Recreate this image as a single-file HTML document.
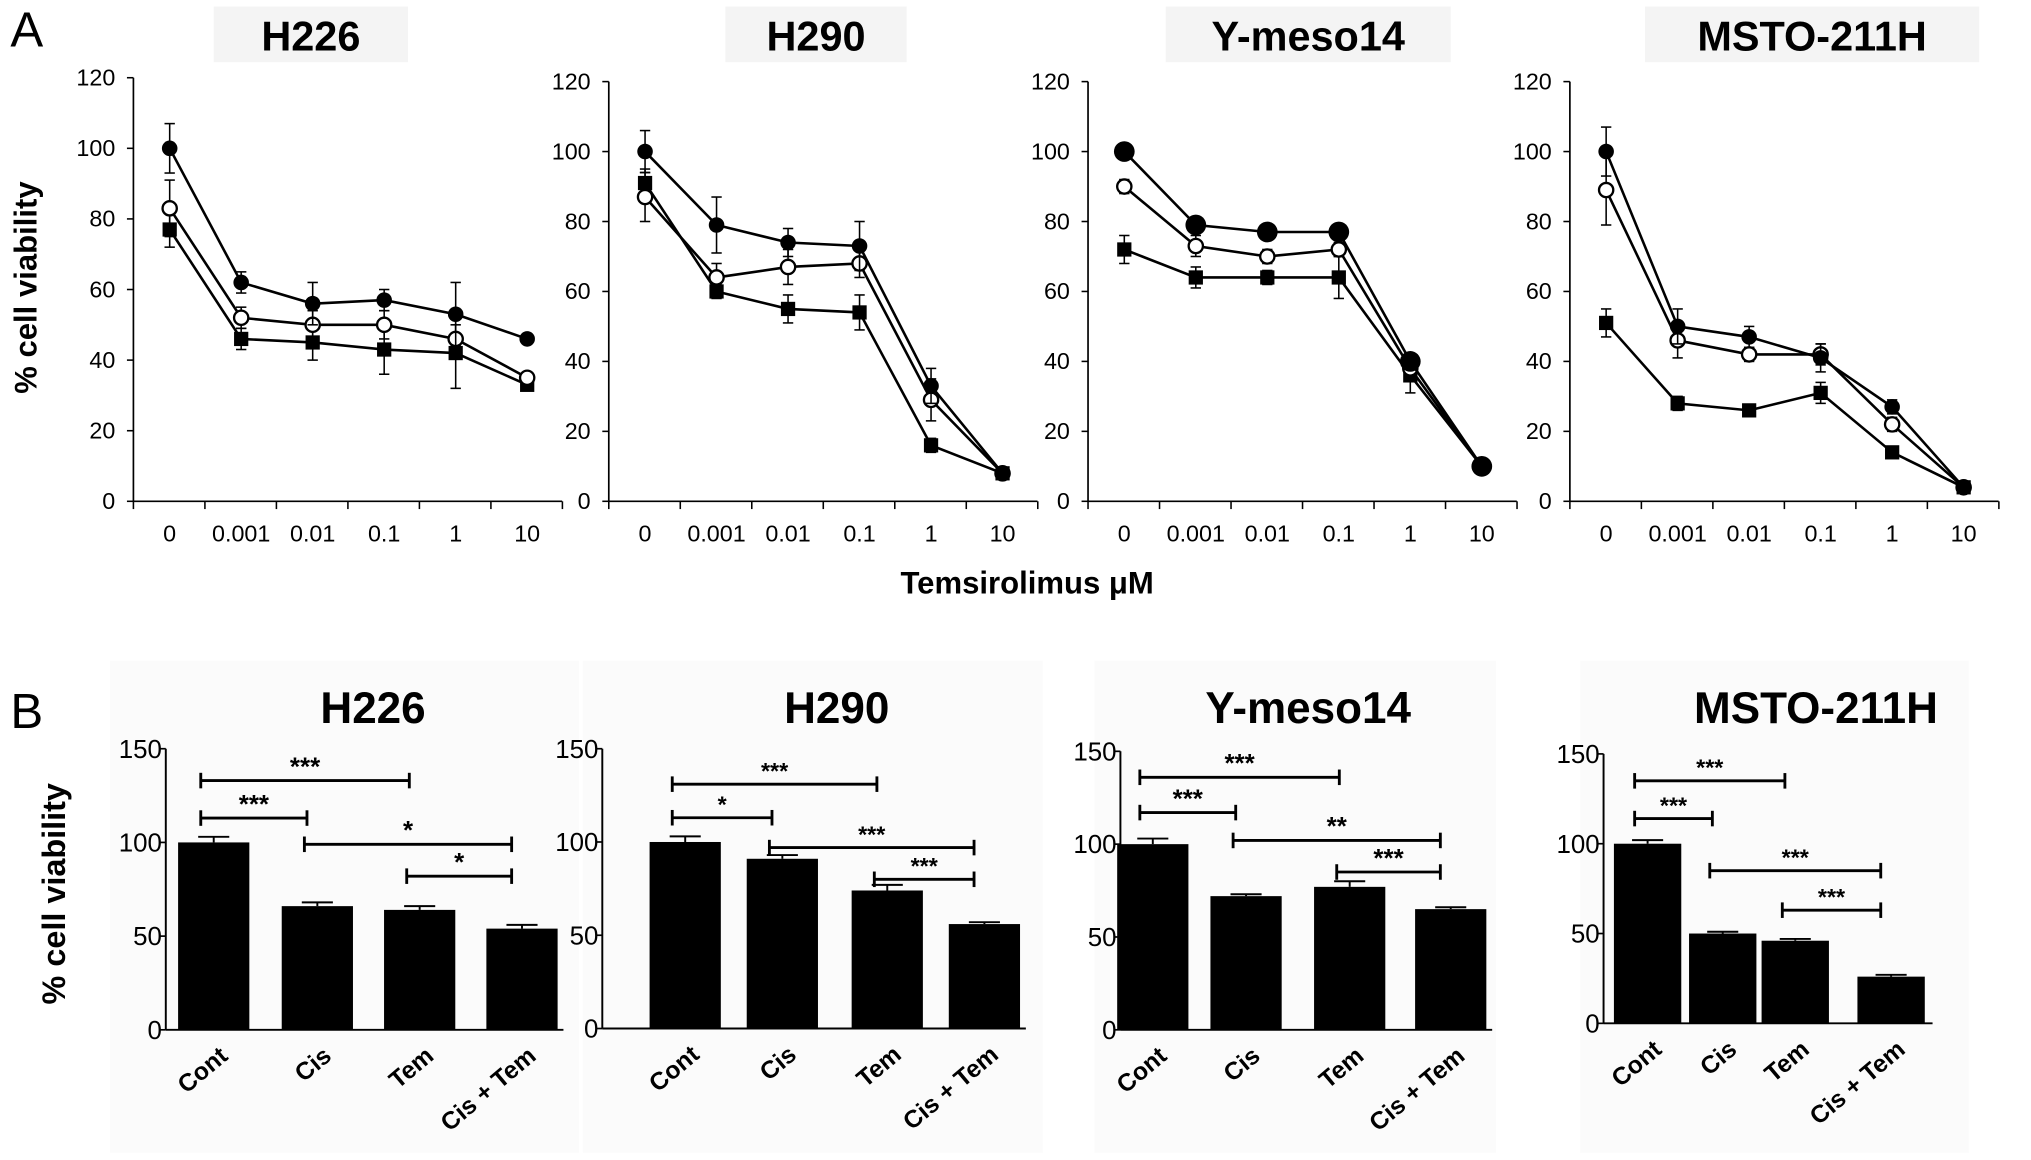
<!DOCTYPE html>
<html><head><meta charset="utf-8"><style>
html,body{margin:0;padding:0;background:#fff;}
svg{display:block;font-family:"Liberation Sans",sans-serif;}
</style></head><body>
<svg id="fig" width="2031" height="1160" viewBox="0 0 1568 895.5" preserveAspectRatio="none"></svg>
<script>
// ---------- Panel A data ----------
const doses = ["0","0.001","0.01","0.1","1","10"];
const yTicksA = [0,20,40,60,80,100,120];
const cellLinesA = ["H226","H290","Y-meso14","MSTO-211H"];
const filledA = [[100,62,56,57,53,46],[100,79,74,73,33,8],[100,79,77,77,40,10],[100,50,47,41,27,4]];
const openA   = [[83,52,50,50,46,35],[87,64,67,68,29,8],[90,73,70,72,38,10],[89,46,42,42,22,4]];
const squareA = [[77,46,45,43,42,33],[91,60,55,54,16,8],[72,64,64,64,36,10],[51,28,26,31,14,4]];
const errFilledA = [[7,3,6,3,9,1],[6,8,4,7,5,1],[2,2,2,2,2,1],[7,5,3,4,2,1]];
const errOpenA   = [[8,3,4,4,4,1],[7,4,5,4,6,1],[2,3,2,2,2,1],[10,5,2,3,2,1]];
const errSquareA = [[5,3,5,7,10,1],[4,2,4,5,2,1],[4,3,2,6,5,1],[4,2,1,3,1,1]];
// ---------- Panel B data ----------
const groupsB = ["Cont","Cis","Tem","Cis + Tem"];
const yTicksB = [0,50,100,150];
const cellLinesB = ["H226","H290","Y-meso14","MSTO-211H"];
const barsB = [[100,66,64,54],[100,91,74,56],[100,72,77,65],[100,50,46,26]];
const errB = [[3,2,2,2],[3,2,3,1],[3,1,3,1],[2,1,1,1]];
const sigFromB = [[0,0,1,2],[0,0,1,2],[0,0,1,2],[0,0,1,2]];
const sigToB   = [[2,1,3,3],[2,1,3,3],[2,1,3,3],[2,1,3,3]];
const sigValB  = [[133,113,99,82],[131,113,97,80],[136,117,102,85],[135,114,85,63]];
const sigLabelB= [["***","***","*","*"],["***","*","***","***"],["***","***","**","***"],["***","***","***","***"]];

const NS="http://www.w3.org/2000/svg";
const svg=document.getElementById('fig');
function el(tag,attrs,parent,text){const e=document.createElementNS(NS,tag);for(const k in attrs)e.setAttribute(k,attrs[k]);if(text!==undefined)e.textContent=text;(parent||svg).appendChild(e);return e;}

let t=el('text',{x:8,y:36,'font-size':38},svg,'A');

t=el('text',{x:8,y:562,'font-size':38},svg,'B');


// ---------- Panel A ----------
const axA=[{x0:103,y0:387,y120:60},{x0:470,y0:387,y120:63},{x0:840,y0:387,y120:63},{x0:1212,y0:387,y120:63}];
const titleBoxA=[[165,5,150],[560,5,140],[900,5,220],[1270,5,258]];
t=el('text',{x:28,y:222,'font-size':24,'font-weight':'bold','text-anchor':'middle',transform:'rotate(-90 28 222)'},svg,'% cell viability');

t=el('text',{x:793,y:458,'font-size':24,'font-weight':'bold','text-anchor':'middle'},svg,'Temsirolimus μM');


for(let p=0;p<4;p++){
  const a=axA[p];
  const g=el('g',{});
  
  
  const yS=v=>a.y0-(v/120)*(a.y0-a.y120);
  const step=55.2, first=a.x0+28;
  const xS=i=>first+i*step;
  const b=titleBoxA[p];
  el('rect',{x:b[0],y:b[1],width:b[2],height:43,fill:'#f4f4f4'},g);
  let tt=el('text',{x:b[0]+b[2]/2,y:39,'font-size':32,'font-weight':'bold','text-anchor':'middle'},g,cellLinesA[p]);
  
  const xEnd=first+5*step+27;
  el('line',{x1:a.x0,y1:a.y120,x2:a.x0,y2:a.y0,stroke:'#000','stroke-width':1.3},g);
  el('line',{x1:a.x0,y1:a.y0,x2:xEnd,y2:a.y0,stroke:'#000','stroke-width':1.3},g);
  yTicksA.forEach(v=>{
    el('line',{x1:a.x0-5,y1:yS(v),x2:a.x0,y2:yS(v),stroke:'#000','stroke-width':1.2},g);
    const l=el('text',{x:a.x0-14,y:yS(v)+6,'font-size':18,'text-anchor':'end'},g,String(v));
    
  });
  for(let i=0;i<=6;i++){const xx=a.x0+i*step;el('line',{x1:xx,y1:a.y0,x2:xx,y2:a.y0+6,stroke:'#000','stroke-width':1.2},g);}
  doses.forEach((d,i)=>{
    const l=el('text',{x:xS(i),y:a.y0+31,'font-size':18,'text-anchor':'middle'},g,d);
    
  });
  const big=p===2;
  const series=[[squareA[p],errSquareA[p],'square'],[openA[p],errOpenA[p],'open'],[filledA[p],errFilledA[p],'filled']];
  series.forEach(([vals,errs,kind])=>{
    const sg=el('g',{},g);
    
    
    el('polyline',{points:vals.map((v,i)=>xS(i)+','+yS(v)).join(' '),fill:'none',stroke:'#000','stroke-width':2},sg);
    vals.forEach((v,i)=>{
      const x=xS(i),y=yS(v),e=errs[i];
      if(e>1){el('line',{x1:x,y1:yS(v+e),x2:x,y2:yS(v-e),stroke:'#000','stroke-width':1.2},sg);
        el('line',{x1:x-4,y1:yS(v+e),x2:x+4,y2:yS(v+e),stroke:'#000','stroke-width':1.2},sg);
        el('line',{x1:x-4,y1:yS(v-e),x2:x+4,y2:yS(v-e),stroke:'#000','stroke-width':1.2},sg);}
      let m;
      if(kind==='square') m=el('rect',{x:x-5.5,y:y-5.5,width:11,height:11,fill:'#000'},sg);
      else if(kind==='open') m=el('circle',{cx:x,cy:y,r:5.5,fill:'#fff',stroke:'#000','stroke-width':1.8},sg);
      else m=el('circle',{cx:x,cy:y,r:big?8:6,fill:'#000'},sg);
      
    });
  });
}

// ---------- Panel B ----------
const axB=[{x0:128,y0:795,y150:578,c:[165,245,324,403],bg:[85,510,362]},
           {x0:465,y0:794,y150:578,c:[529,604,685,760],bg:[450,510,355]},
           {x0:865,y0:795,y150:580,c:[890,962,1042,1120],bg:[845,510,310]},
           {x0:1238,y0:790,y150:582,c:[1272,1330,1386,1460],bg:[1220,510,300]}];
const titleXB=[288,646,1010,1402];
t=el('text',{x:50,y:690,'font-size':25,'font-weight':'bold','text-anchor':'middle',transform:'rotate(-90 50 690)'},svg,'% cell viability');


for(let p=0;p<4;p++){
  const a=axB[p];
  const g=el('g',{});
  
  
  el('rect',{x:a.bg[0],y:a.bg[1],width:a.bg[2],height:380,fill:'#fbfbfb'},g);
  const yS=v=>a.y0-(v/150)*(a.y0-a.y150);
  let tt=el('text',{x:titleXB[p],y:558,'font-size':34,'font-weight':'bold','text-anchor':'middle'},g,cellLinesB[p]);
  
  el('line',{x1:a.x0,y1:a.y150,x2:a.x0,y2:a.y0,stroke:'#000','stroke-width':1.5},g);
  el('line',{x1:a.x0,y1:a.y0,x2:a.c[3]+32,y2:a.y0,stroke:'#000','stroke-width':1.5},g);
  yTicksB.forEach(v=>{
    el('line',{x1:a.x0-5,y1:yS(v),x2:a.x0,y2:yS(v),stroke:'#000','stroke-width':1.3},g);
    const l=el('text',{x:a.x0-3,y:yS(v)+7,'font-size':20,'text-anchor':'end'},g,String(v));
    
  });
  const bw=p===3?52:55;
  barsB[p].forEach((v,i)=>{
    const x=a.c[i];
    const r=el('rect',{x:x-bw/2,y:yS(v),width:bw,height:a.y0-yS(v),fill:'#000'},g);
    
    
    const e=errB[p][i];
    el('line',{x1:x-12,y1:yS(v+e),x2:x+12,y2:yS(v+e),stroke:'#000','stroke-width':1.5},g);
    el('line',{x1:x,y1:yS(v+e),x2:x,y2:yS(v),stroke:'#000','stroke-width':1.5},g);
    const l=el('text',{x:x+12,y:a.y0+22,'font-size':19,'font-weight':'bold','text-anchor':'end',transform:'rotate(-40 '+(x+12)+' '+(a.y0+22)+')'},g,groupsB[i]);
    
  });
  for(let k=0;k<4;k++){
    const x1=a.c[sigFromB[p][k]],x2=a.c[sigToB[p][k]],y=yS(sigValB[p][k]);
    const sg=el('g',{},g);
    
    el('line',{x1:x1-10,y1:y,x2:x2-8,y2:y,stroke:'#000','stroke-width':2.2},sg);
    el('line',{x1:x1-10,y1:y-6,x2:x1-10,y2:y+6,stroke:'#000','stroke-width':2.2},sg);
    el('line',{x1:x2-8,y1:y-6,x2:x2-8,y2:y+6,stroke:'#000','stroke-width':2.2},sg);
    el('text',{x:(x1+x2)/2-9,y:y-4,'font-size':p===1||p===3?18:20,'font-weight':'bold','text-anchor':'middle'},sg,sigLabelB[p][k]);
  }
}
</script>
</body></html>
